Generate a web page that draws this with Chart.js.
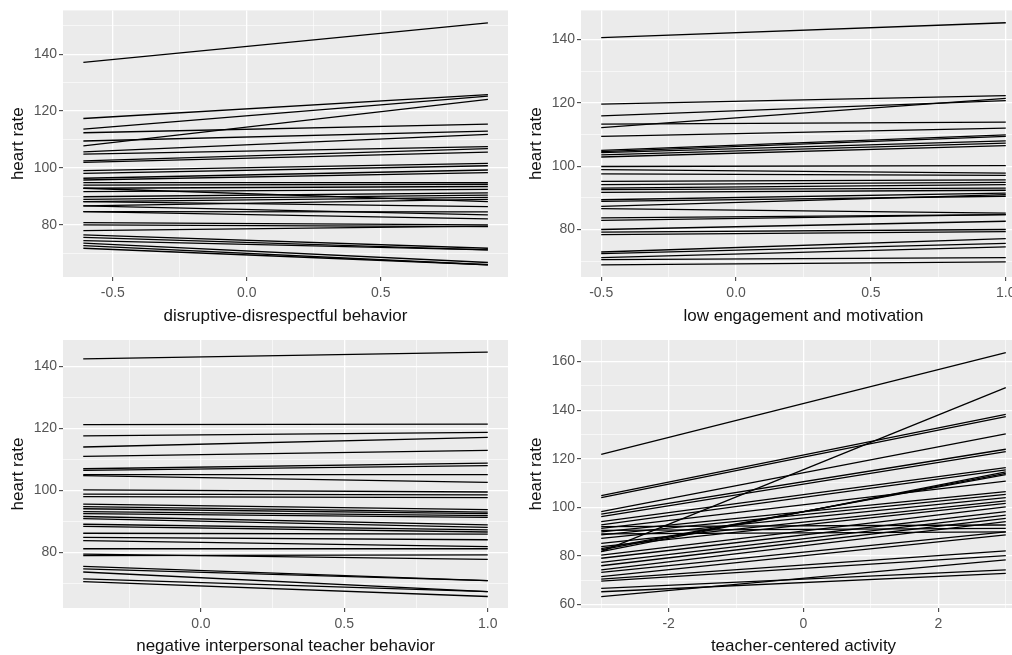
<!DOCTYPE html>
<html>
<head>
<meta charset="utf-8">
<script src="https://cdn.jsdelivr.net/npm/chart.js@4.4.1/dist/chart.umd.min.js"></script>
<style>
  html, body { margin: 0; padding: 0; background: #fff; overflow: hidden; width: 1012px; height: 655px; }
  .panel { position: absolute; }
</style>
</head>
<body>
<div class="panel" style="left:0;top:0"><canvas id="c1" width="510" height="325"></canvas></div>
<div class="panel" style="left:518px;top:0"><canvas id="c2" width="510" height="325"></canvas></div>
<div class="panel" style="left:0;top:325px"><canvas id="c3" width="510" height="330"></canvas></div>
<div class="panel" style="left:518px;top:325px"><canvas id="c4" width="510" height="330"></canvas></div>
<script>
// predicted heart rate per person: value at the lowest and highest x of each panel
const disruptiveX = [-0.61, 0.90]
const disruptiveStart = [137.1, 117.4, 113.7, 107.8, 112.4, 109.5, 105.7, 104.9, 102.5, 102.0,
  99.1, 98.1, 96.4, 95.8, 94.9, 94.0, 92.9, 91.7, 89.9, 89.0, 88.2, 86.7, 92.9, 88.2, 84.7, 86.7, 84.7,
  80.8, 80.0, 78.0, 76.5, 75.6, 74.5, 73.6, 72.7, 71.8]
const disruptiveEnd = [151.0, 125.8, 125.3, 124.1, 115.4, 113.0, 111.8, 107.5, 106.8, 105.6,
  101.6, 100.8, 99.3, 98.4, 94.9, 94.3, 93.5, 92.5, 91.3, 90.5, 89.7, 89.0, 88.2, 86.4, 84.6, 83.5, 82.1,
  80.0, 79.4, 79.6, 71.8, 71.2, 71.2, 66.8, 66.0, 66.0]

const engagementX = [-0.5, 1.0]
const engagementStart = [140.6, 119.6, 115.9, 112.2, 113.3, 109.4, 105.0, 104.6, 104.3, 103.6, 102.9,
  99.9, 98.9, 97.6, 95.2, 94.2, 93.1, 92.6, 91.7, 89.4, 88.9, 87.3, 86.6, 83.7, 82.9,
  80.0, 79.2, 78.4, 72.9, 72.4, 71.1, 70.5, 68.8]
const engagementEnd = [145.3, 122.3, 120.7, 121.4, 113.9, 112.0, 109.9, 109.4, 108.0, 107.3, 106.5,
  100.2, 97.8, 97.1, 95.7, 94.9, 94.2, 93.1, 92.4, 91.5, 90.5, 91.0, 85.2, 84.7, 84.7,
  82.6, 80.0, 79.3, 77.1, 75.6, 74.5, 71.1, 69.8]

const teacherNegX = [-0.41, 1.0]
const teacherNegStart = [142.4, 121.2, 117.6, 114.0, 111.0, 107.0, 106.5, 105.1, 104.8,
  100.2, 98.8, 98.0, 95.6, 94.8, 94.1, 93.2, 92.5, 91.6, 90.9, 89.1, 88.4, 86.2, 84.9, 83.8, 81.2, 79.0, 79.5,
  75.5, 74.7, 73.7, 71.5, 70.6]
const teacherNegEnd = [144.6, 121.4, 118.7, 117.1, 112.9, 108.8, 108.0, 105.1, 102.6,
  99.5, 98.6, 97.7, 93.8, 93.0, 92.5, 91.9, 91.3, 88.9, 88.1, 87.3, 86.6, 85.9, 84.1, 81.9, 81.2, 79.2, 77.8,
  70.9, 70.9, 67.4, 67.4, 65.8]

const centeredX = [-3, 3]
const centeredStart = [121.8, 81.7, 104.8, 104.0, 98.2, 97.2, 96.1, 94.1, 92.7, 82.4, 81.7, 83.0,
  91.3, 89.9, 88.6, 87.2, 85.1, 83.8, 80.3, 79.0, 77.3, 75.9, 74.2, 92.0, 90.5, 89.0,
  73.2, 71.4, 70.4, 69.6, 63.2, 66.6, 65.2]
const centeredEnd = [163.7, 149.3, 138.3, 137.3, 130.2, 123.9, 122.9, 116.3, 115.4, 114.0, 114.6, 113.4,
  110.8, 106.4, 105.3, 104.0, 102.6, 101.6, 100.2, 98.2, 96.8, 95.4, 94.1, 92.7, 91.3, 89.9,
  89.9, 88.6, 82.0, 80.1, 78.3, 74.2, 72.8]

// axis breaks (major = labelled, minor = grid only)
const disruptiveXMajor = [-0.5, 0, 0.5], disruptiveXMinor = [-0.25, 0.25, 0.75]
const engagementXMajor = [-0.5, 0, 0.5, 1], engagementXMinor = [-0.25, 0.25, 0.75]
const teacherNegXMajor = [0, 0.5, 1], teacherNegXMinor = [-0.25, 0.25, 0.75]
const centeredXMajor = [-2, 0, 2], centeredXMinor = [-3, -1, 1, 3]
const hrMajor = [80, 100, 120, 140], hrMinor = [70, 90, 110, 130, 150]
const hrMajor4 = [60, 80, 100, 120, 140, 160], hrMinor4 = [70, 90, 110, 130, 150]

const FONT = 'Liberation Sans, Arial, sans-serif'

const panelBg = {
  id: 'panelBg',
  beforeDraw(chart) {
    const a = chart.chartArea, ctx = chart.ctx
    ctx.save()
    ctx.fillStyle = '#EBEBEB'
    ctx.fillRect(a.left, a.top, a.right - a.left, a.bottom - a.top)
    ctx.restore()
  }
}

function axis(min, max, major, minor, fmt, title, size, isX) {
  const all = major.concat(minor).filter(v => v >= min && v <= max).sort((a, b) => a - b)
  return {
    type: 'linear', min, max,
    afterBuildTicks: s => { s.ticks = all.map(v => ({ value: v })) },
    afterFit: s => { if (isX) s.height = size; else s.width = size },
    border: { display: false },
    grid: {
      color: '#fff',
      lineWidth: c => major.includes(c.tick.value) ? 1.3 : 0.6,
      tickLength: 4,
      tickWidth: 1,
      tickColor: c => major.includes(c.tick.value) ? '#333' : 'rgba(0,0,0,0)'
    },
    ticks: {
      autoSkip: false, maxRotation: 0, color: '#555', padding: isX ? 4 : 2,
      font: { family: FONT, size: 14 },
      callback: v => major.includes(v) ? fmt(v) : ''
    },
    title: {
      display: true, text: title, color: '#111',
      font: { family: FONT, size: 17 },
      padding: isX ? { top: 0, bottom: -2 } : { top: 8, bottom: 0 }
    }
  }
}

function makePanel(id, p) {
  const datasets = p.start.map((s, i) => ({
    data: [{ x: p.xData[0], y: s }, { x: p.xData[1], y: p.end[i] }],
    showLine: true, borderColor: '#000', borderWidth: 1.3, pointRadius: 0
  }))
  new Chart(document.getElementById(id), {
    type: 'scatter',
    data: { datasets },
    options: {
      responsive: false, animation: false,
      layout: { padding: { top: p.padTop, right: 2, left: 0, bottom: 0 } },
      plugins: { legend: { display: false }, tooltip: { enabled: false } },
      scales: {
        x: axis(p.xMin, p.xMax, p.xMajor, p.xMinor, p.fmt, p.xTitle, p.xAxisH, true),
        y: axis(p.yMin, p.yMax, p.yMajor, p.yMinor, v => String(v), 'heart rate', 63, false)
      }
    },
    plugins: [panelBg]
  })
}

const oneDec = v => v.toFixed(1)

makePanel('c1', { xData: disruptiveX, start: disruptiveStart, end: disruptiveEnd,
  xMin: -0.686, xMax: 0.975, xMajor: disruptiveXMajor, xMinor: disruptiveXMinor, fmt: oneDec,
  yMin: 61.7, yMax: 155.4, yMajor: hrMajor, yMinor: hrMinor,
  xTitle: 'disruptive-disrespectful behavior', padTop: 10, xAxisH: 48 })

makePanel('c2', { xData: engagementX, start: engagementStart, end: engagementEnd,
  xMin: -0.575, xMax: 1.075, xMajor: engagementXMajor, xMinor: engagementXMinor, fmt: oneDec,
  yMin: 65.0, yMax: 149.2, yMajor: hrMajor, yMinor: hrMinor,
  xTitle: 'low engagement and motivation', padTop: 10, xAxisH: 48 })

makePanel('c3', { xData: teacherNegX, start: teacherNegStart, end: teacherNegEnd,
  xMin: -0.4805, xMax: 1.0705, xMajor: teacherNegXMajor, xMinor: teacherNegXMinor, fmt: oneDec,
  yMin: 62.1, yMax: 148.5, yMajor: hrMajor, yMinor: hrMinor,
  xTitle: 'negative interpersonal teacher behavior', padTop: 15, xAxisH: 47 })

makePanel('c4', { xData: centeredX, start: centeredStart, end: centeredEnd,
  xMin: -3.3, xMax: 3.3, xMajor: centeredXMajor, xMinor: centeredXMinor, fmt: v => String(v),
  yMin: 58.5, yMax: 168.9, yMajor: hrMajor4, yMinor: hrMinor4,
  xTitle: 'teacher-centered activity', padTop: 15, xAxisH: 47 })
</script>
</body>
</html>
